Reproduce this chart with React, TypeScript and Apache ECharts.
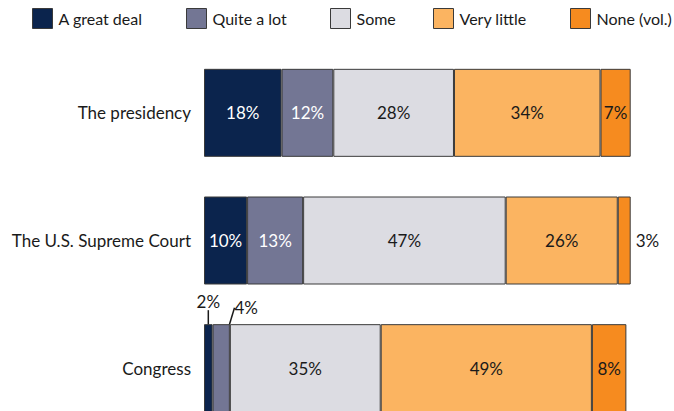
import React, { useEffect, useRef } from "react";
import * as echarts from "echarts";

const categories = ["The presidency", "The U.S. Supreme Court", "Congress"];
const seriesNames = ["A great deal", "Quite a lot", "Some", "Very little", "None (vol.)"];
const greatDeal = [18, 10, 2];
const quiteALot = [12, 13, 4];
const some = [28, 47, 35];
const veryLittle = [34, 26, 49];
const none = [7, 3, 8];
const colors = ["#0b244d", "#737694", "#dcdce2", "#fbb461", "#f68b1f"];
const labelColors = ["#ffffff", "#ffffff", "#1a1a1a", "#1a1a1a", "#1a1a1a"];
const legendLefts = [32, 186, 330, 433, 570];

const FONT = "Lato, 'Open Sans', sans-serif";

export default function App() {
  const ref = useRef<HTMLDivElement>(null);
  useEffect(() => {
    if (!ref.current) return;
    const chart = echarts.init(ref.current, undefined, { renderer: "svg" });
    const values = [greatDeal, quiteALot, some, veryLittle, none];
    const series = values.map((vals, si) => ({
      name: seriesNames[si],
      type: "bar",
      stack: "total",
      barWidth: 88,
      itemStyle: { color: colors[si], borderColor: "#3a3a3a", borderWidth: 1 },
      label: {
        show: true,
        position: "inside",
        formatter: "{c}%",
        color: labelColors[si],
        fontSize: 17,
        fontFamily: FONT,
      },
      labelLine: { show: si < 2, lineStyle: { color: "#1a1a1a", width: 1.5 } },
      labelLayout: (p: any) => {
        if (si === 0 && p.dataIndex === 2) return { dy: -12 };
        if (si === 1 && p.dataIndex === 2) return { dx: 25, dy: -6 };
        return {};
      },
      data: vals.map((v, di) => {
        if (di === 2 && (si === 0 || si === 1)) {
          return {
            value: v,
            label: { position: "top", color: "#1a1a1a", distance: 2 },
          };
        }
        if (di === 1 && si === 4) {
          return { value: v, label: { position: "right", color: "#1a1a1a", distance: 5 } };
        }
        return { value: v };
      }),
    }));
    const legends = seriesNames.map((n, i) => ({
      left: legendLefts[i] - 5,
      top: 3,
      itemWidth: 20,
      itemHeight: 20,
      icon: "rect",
      data: [
        {
          name: n,
          itemStyle: { color: colors[i], borderColor: "#3a3a3a", borderWidth: 1 },
        },
      ],
      textStyle: { fontSize: 16, color: "#1a1a1a", fontFamily: FONT, padding: [0, 0, 0, 1] },
    }));
    chart.setOption({
      animation: false,
      textStyle: { fontFamily: FONT },
      legend: legends,
      grid: {
        left: 204,
        width: 431,
        top: 49,
        height: 383,
        containLabel: false,
        outerBoundsMode: "none",
      },
      xAxis: { type: "value", min: 0, max: 100, show: false },
      yAxis: {
        type: "category",
        data: categories,
        inverse: true,
        axisLine: { show: false },
        axisTick: { show: false },
        axisLabel: { fontSize: 17, color: "#1a1a1a", margin: 13, fontFamily: FONT },
      },
      series,
    });
    return () => chart.dispose();
  }, []);
  return <div ref={ref} style={{ width: 674, height: 411, position: "absolute", left: 0, top: 0 }} />;
}
